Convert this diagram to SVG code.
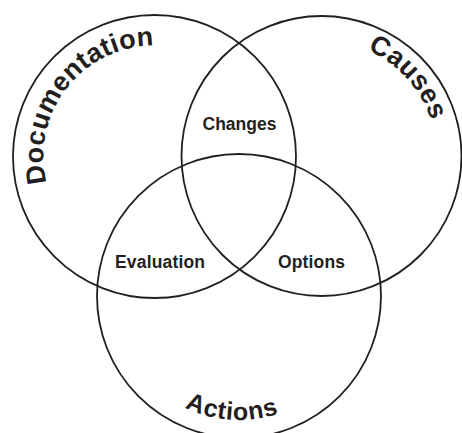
<svg xmlns="http://www.w3.org/2000/svg" xmlns:xlink="http://www.w3.org/1999/xlink" width="462" height="433" viewBox="0 0 462 433">
<style>
.ring{fill:none;stroke:#231f20;stroke-width:1.8}
.big{font-family:"Liberation Sans",Arial,sans-serif;font-weight:bold;font-size:27px;fill:#231f20;letter-spacing:0.3px}
.lbl{font-family:"Liberation Sans",Arial,sans-serif;font-weight:bold;font-size:17.5px;fill:#231f20;text-anchor:middle}
</style>
<defs>
<path id="pDoc" d="M72.0,230.8 A111,111 0 0 1 206.6,58.5"/>
<path id="pCau" d="M260.3,59.3 A114,114 0 0 1 411.3,226.2"/>
<path id="pAct" d="M115.8,310.0 A124,124 0 0 0 359.6,324.9"/>
</defs>
<rect width="462" height="433" fill="#ffffff"/>
<g id="documentation">
<circle class="ring" cx="154.5" cy="156.5" r="141.5"/>
<text class="big"><textPath xlink:href="#pDoc" href="#pDoc" startOffset="50%" text-anchor="middle">Documentation</textPath></text>
</g>
<g id="causes">
<circle class="ring" cx="321.5" cy="156" r="140"/>
<text class="big"><textPath xlink:href="#pCau" href="#pCau" startOffset="50%" text-anchor="middle">Causes</textPath></text>
</g>
<g id="actions">
<circle class="ring" cx="239" cy="296" r="142"/>
<text class="big" style="font-size:25px;letter-spacing:0.8px"><textPath xlink:href="#pAct" href="#pAct" startOffset="50%" text-anchor="middle">Actions</textPath></text>
</g>
<g id="changes">
<text class="lbl" x="239.5" y="129.5" textLength="74" lengthAdjust="spacing">Changes</text>
</g>
<g id="evaluation">
<text class="lbl" x="160" y="268" textLength="90" lengthAdjust="spacing">Evaluation</text>
</g>
<g id="options">
<text class="lbl" x="311.5" y="268" textLength="67" lengthAdjust="spacing">Options</text>
</g>
<g id="connectors"></g>
</svg>
